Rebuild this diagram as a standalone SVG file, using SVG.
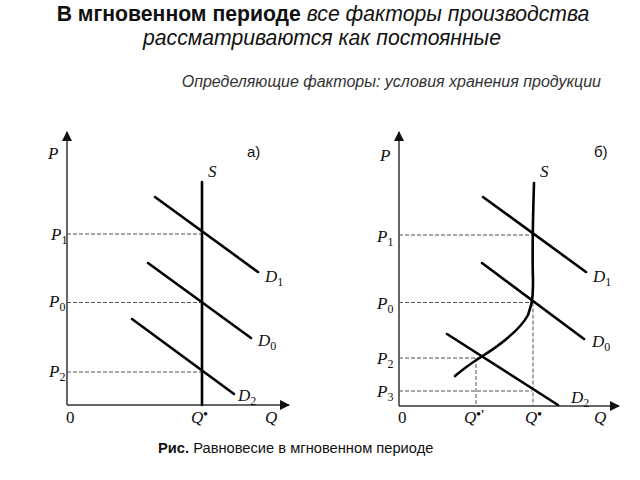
<svg xmlns="http://www.w3.org/2000/svg" width="640" height="480" viewBox="0 0 640 480">
<defs>
<marker id="ah" viewBox="0 0 10 10" refX="9" refY="5" markerWidth="10" markerHeight="10" markerUnits="userSpaceOnUse" orient="auto">
<path d="M0,0 L10,5 L0,10 z" fill="#111"/>
</marker>
</defs>
<style>
.ax{stroke:#333;stroke-width:1.5;fill:none}
.crv{stroke:#000;stroke-width:2.6;fill:none;stroke-linecap:round}
.dsh{stroke:#555;stroke-width:1;stroke-dasharray:4,2;fill:none}
.m{font-family:"Liberation Serif",serif;font-style:italic;font-size:17px;fill:#111}
.sub{font-size:12px;font-style:normal}
.sup{font-size:13px;font-style:normal;font-weight:bold}
.up{font-style:normal}
.lbl{font-family:"Liberation Sans",Arial,sans-serif;font-size:15px;fill:#111}
</style>
<rect width="640" height="480" fill="#fff"/>
<g id="title" font-family="'Liberation Sans',Arial,sans-serif" font-size="21.2" fill="#111" text-anchor="middle">
<text x="323" y="21"><tspan font-weight="bold">В мгновенном периоде</tspan><tspan font-style="italic"> все факторы производства</tspan></text>
<text x="322" y="45" font-style="italic">рассматриваются как постоянные</text>
</g>
<text id="subtitle" x="601" y="87" text-anchor="end" font-family="'Liberation Sans',Arial,sans-serif" font-size="16" font-style="italic" fill="#333">Определяющие факторы: условия хранения продукции</text>

<g id="graphA">
<g id="axesA">
<line class="ax" x1="67" y1="405" x2="67" y2="132" marker-end="url(#ah)"/>
<line class="ax" x1="67" y1="405" x2="289" y2="405" marker-end="url(#ah)"/>
</g>
<g id="connectorsA">
<line class="dsh" x1="67" y1="234" x2="202" y2="234"/>
<line class="dsh" x1="67" y1="302.5" x2="202" y2="302.5"/>
<line class="dsh" x1="67" y1="372" x2="202" y2="372"/>
</g>
<g id="SA"><line class="crv" x1="202" y1="182" x2="202" y2="405"/><text class="m" x="208" y="177">S</text></g>
<g id="D1A"><line class="crv" x1="155" y1="197" x2="258" y2="272"/><text class="m" x="265" y="282">D<tspan class="sub" dy="4">1</tspan></text></g>
<g id="D0A"><line class="crv" x1="148" y1="263" x2="251" y2="338"/><text class="m" x="258" y="346">D<tspan class="sub" dy="4">0</tspan></text></g>
<g id="D2A"><line class="crv" x1="132" y1="319" x2="234" y2="394"/><text class="m" x="238" y="401">D<tspan class="sub" dy="4">2</tspan></text></g>
<g id="labelsA">
<text class="m" x="48" y="159">P</text>
<text class="lbl" x="247" y="157">а)</text>
<text class="m" x="51" y="240">P<tspan class="sub" dy="4">1</tspan></text>
<text class="m" x="49" y="307">P<tspan class="sub" dy="4">0</tspan></text>
<text class="m" x="49" y="377">P<tspan class="sub" dy="4">2</tspan></text>
<text class="m up" x="66" y="423">0</text>
<text class="m" x="191" y="423">Q<tspan class="sup" dy="-5">•</tspan></text>
<text class="m" x="265" y="423">Q</text>
</g>
</g>

<g id="graphB">
<g id="axesB">
<line class="ax" x1="399" y1="406" x2="399" y2="132" marker-end="url(#ah)"/>
<line class="ax" x1="399" y1="406" x2="619" y2="406" marker-end="url(#ah)"/>
</g>
<g id="connectorsB">
<line class="dsh" x1="399" y1="235" x2="533" y2="235"/>
<line class="dsh" x1="399" y1="302.5" x2="533" y2="302.5"/>
<line class="dsh" x1="399" y1="358" x2="481" y2="358"/>
<line class="dsh" x1="399" y1="391" x2="532" y2="391"/>
<line class="dsh" x1="476" y1="358" x2="476" y2="406"/>
<line class="dsh" x1="533" y1="302.5" x2="533" y2="406"/>
</g>
<g id="SB"><path class="crv" d="M534,183 C533,215 532,250 533,280 C533,300 532,303 528,315 C520,330 500,345 481,357 C470,364 462,370 455,376"/><text class="m" x="540" y="177">S</text></g>
<g id="D1B"><line class="crv" x1="483" y1="197" x2="586" y2="272"/><text class="m" x="593" y="282">D<tspan class="sub" dy="4">1</tspan></text></g>
<g id="D0B"><line class="crv" x1="482" y1="263" x2="584" y2="339"/><text class="m" x="592" y="347">D<tspan class="sub" dy="4">0</tspan></text></g>
<g id="D2B"><line class="crv" x1="447" y1="334" x2="558" y2="405"/><text class="m" x="571" y="403">D<tspan class="sub" dy="4">2</tspan></text></g>
<g id="labelsB">
<text class="m" x="380" y="161">P</text>
<text class="lbl" x="594" y="157">б)</text>
<text class="m" x="377" y="242">P<tspan class="sub" dy="4">1</tspan></text>
<text class="m" x="377" y="309">P<tspan class="sub" dy="4">0</tspan></text>
<text class="m" x="377" y="364">P<tspan class="sub" dy="4">2</tspan></text>
<text class="m" x="377" y="397">P<tspan class="sub" dy="4">3</tspan></text>
<text class="m up" x="398" y="423">0</text>
<text class="m" x="464" y="423">Q<tspan class="sup" dy="-5">•'</tspan></text>
<text class="m" x="525" y="423">Q<tspan class="sup" dy="-5">•</tspan></text>
<text class="m" x="594" y="423">Q</text>
</g>
</g>

<text id="caption" x="158" y="453" font-family="'Liberation Sans',Arial,sans-serif" font-size="14.7" fill="#111"><tspan font-weight="bold">Рис.</tspan> Равновесие в мгновенном периоде</text>
</svg>
